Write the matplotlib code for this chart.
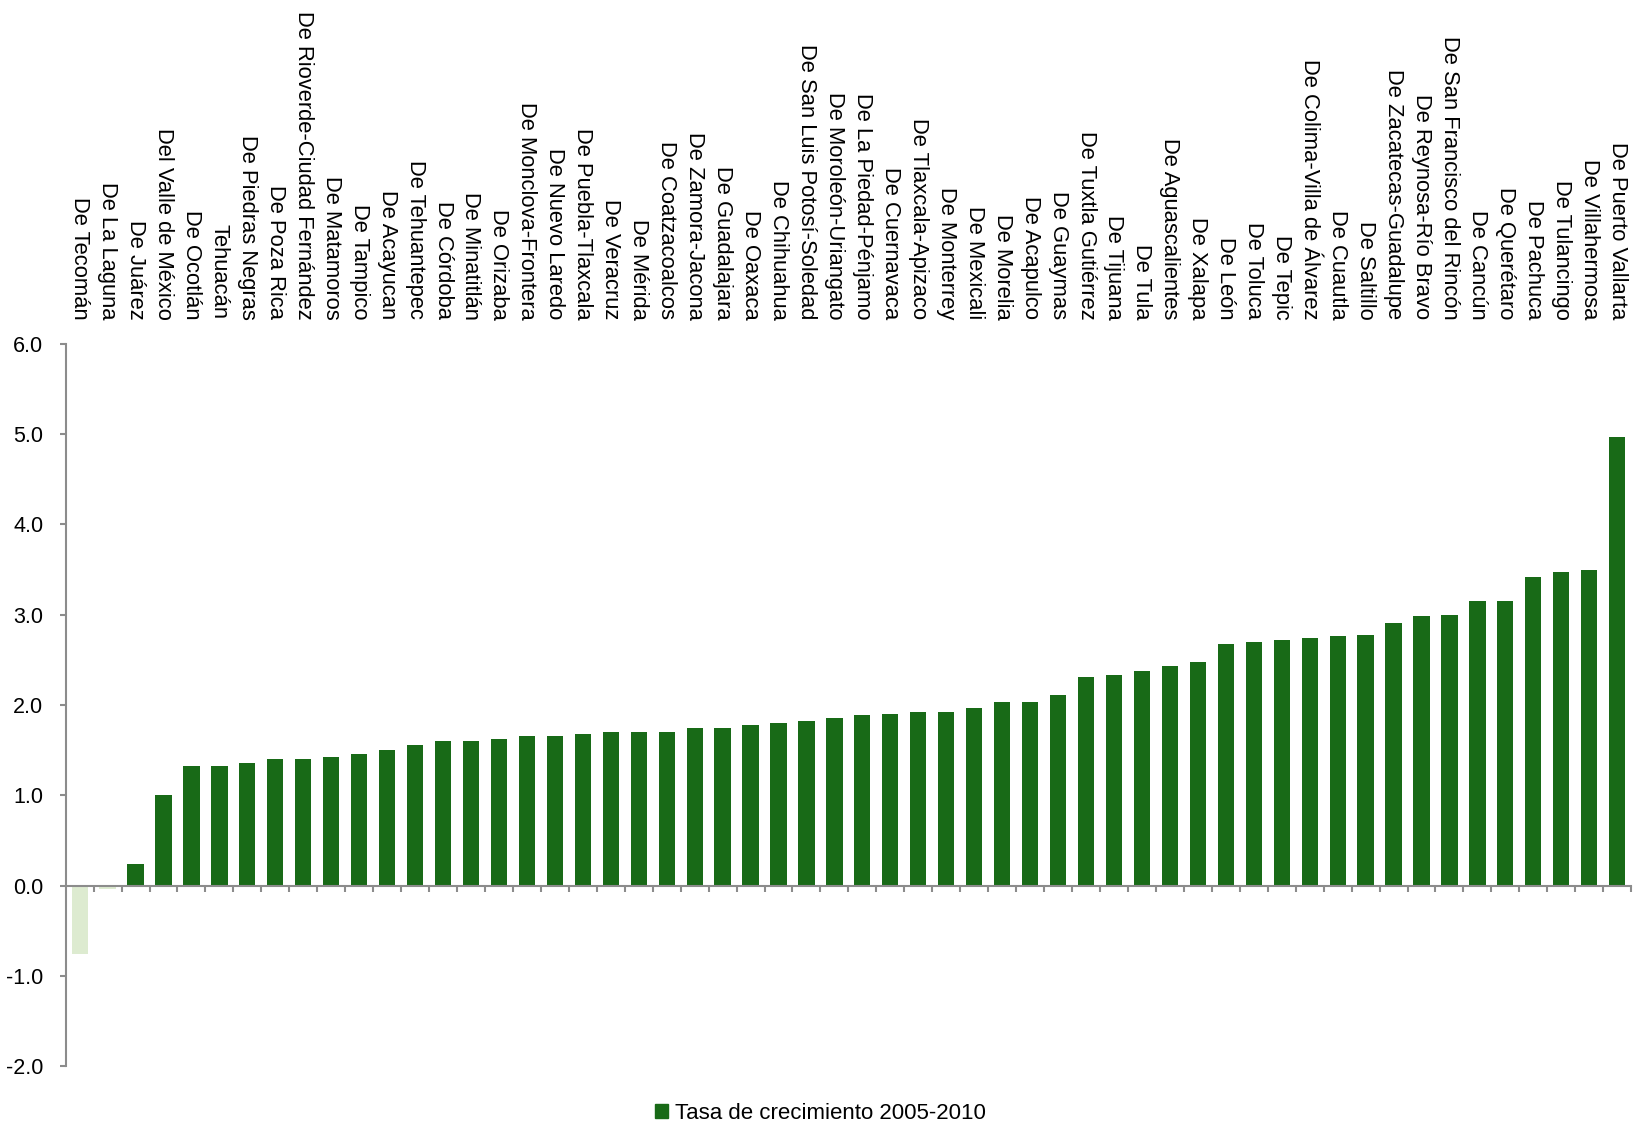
import numpy as np
import matplotlib.pyplot as plt
from matplotlib.patches import Patch

plt.rcParams['font.family'] = ['Liberation Sans', 'DejaVu Sans']

zonas = ["De Tecomán", "De La Laguna", "De Juárez", "Del Valle de México", "De Ocotlán",
         "Tehuacán", "De Piedras Negras", "De Poza Rica", "De Rioverde-Ciudad Fernández",
         "De Matamoros", "De Tampico", "De Acayucan", "De Tehuantepec", "De Córdoba",
         "De Minatitlán", "De Orizaba", "De Monclova-Frontera", "De Nuevo Laredo",
         "De Puebla-Tlaxcala", "De Veracruz", "De Mérida", "De Coatzacoalcos",
         "De Zamora-Jacona", "De Guadalajara", "De Oaxaca", "De Chihuahua",
         "De San Luis Potosí-Soledad", "De Moroleón-Uriangato", "De La Piedad-Pénjamo",
         "De Cuernavaca", "De Tlaxcala-Apizaco", "De Monterrey", "De Mexicali", "De Morelia",
         "De Acapulco", "De Guaymas", "De Tuxtla Gutiérrez", "De Tijuana", "De Tula",
         "De Aguascalientes", "De Xalapa", "De León", "De Toluca", "De Tepic",
         "De Colima-Villa de Álvarez", "De Cuautla", "De Saltillo", "De Zacatecas-Guadalupe",
         "De Reynosa-Río Bravo", "De San Francisco del Rincón", "De Cancún", "De Querétaro",
         "De Pachuca", "De Tulancingo", "De Villahermosa", "De Puerto Vallarta"]

tasa = [-0.76, -0.04, 0.24, 1.00, 1.32, 1.32, 1.36, 1.40, 1.40, 1.42, 1.46, 1.50, 1.56,
        1.60, 1.60, 1.62, 1.66, 1.66, 1.68, 1.70, 1.70, 1.70, 1.75, 1.75, 1.78, 1.80,
        1.82, 1.85, 1.89, 1.90, 1.92, 1.92, 1.97, 2.03, 2.03, 2.11, 2.31, 2.33, 2.38,
        2.43, 2.48, 2.68, 2.70, 2.72, 2.74, 2.76, 2.78, 2.91, 2.99, 3.00, 3.15, 3.15,
        3.42, 3.47, 3.49, 4.97]

verde = "#186A17"
verde_claro = "#DDEBD0"
gris = "#8C8C8C"

fig = plt.figure(figsize=(16.41, 11.27), dpi=100)
ax = fig.add_axes([0.040, 0.054, 0.954, 0.641])

x = np.arange(len(zonas))
colores = [verde if v >= 0 else verde_claro for v in tasa]
ax.bar(x, tasa, width=0.58, color=colores, zorder=2)

ax.set_xlim(-0.5, len(zonas) - 0.5)
ax.set_ylim(-2, 6)
ax.set_yticks(np.arange(-2, 7, 1))
ax.set_yticklabels(["%.1f" % v for v in np.arange(-2, 7, 1)], fontsize=15.5)

# etiquetas arriba, giradas (leen de arriba hacia abajo)
ax.set_xticks(x)
ax.set_xticklabels(zonas)
ax.tick_params(axis="x", which="major", labeltop=True, labelbottom=False,
               top=False, bottom=False, pad=14, labelrotation=270, labelsize=15.8)
ax.set_xticks(np.arange(-0.5, len(zonas), 1)[1:], minor=True)
ax.tick_params(axis="x", which="minor", bottom=True, direction="out",
               length=4, width=1.5, color=gris)
ax.tick_params(axis="y", direction="out", length=4, width=1.5, color=gris, pad=12)

ax.spines["top"].set_visible(False)
ax.spines["right"].set_visible(False)
ax.spines["bottom"].set_position(("data", 0))
ax.spines["bottom"].set_color(gris)
ax.spines["left"].set_color(gris)
ax.spines["bottom"].set_linewidth(1.5)
ax.spines["left"].set_linewidth(1.5)

fig.legend(handles=[Patch(color=verde, label="Tasa de crecimiento 2005-2010")],
           loc="lower center", bbox_to_anchor=(0.5, -0.015), frameon=False,
           fontsize=16, handlelength=0.6, handleheight=0.6, handletextpad=0.3)

fig.savefig("out.png", dpi=100)
